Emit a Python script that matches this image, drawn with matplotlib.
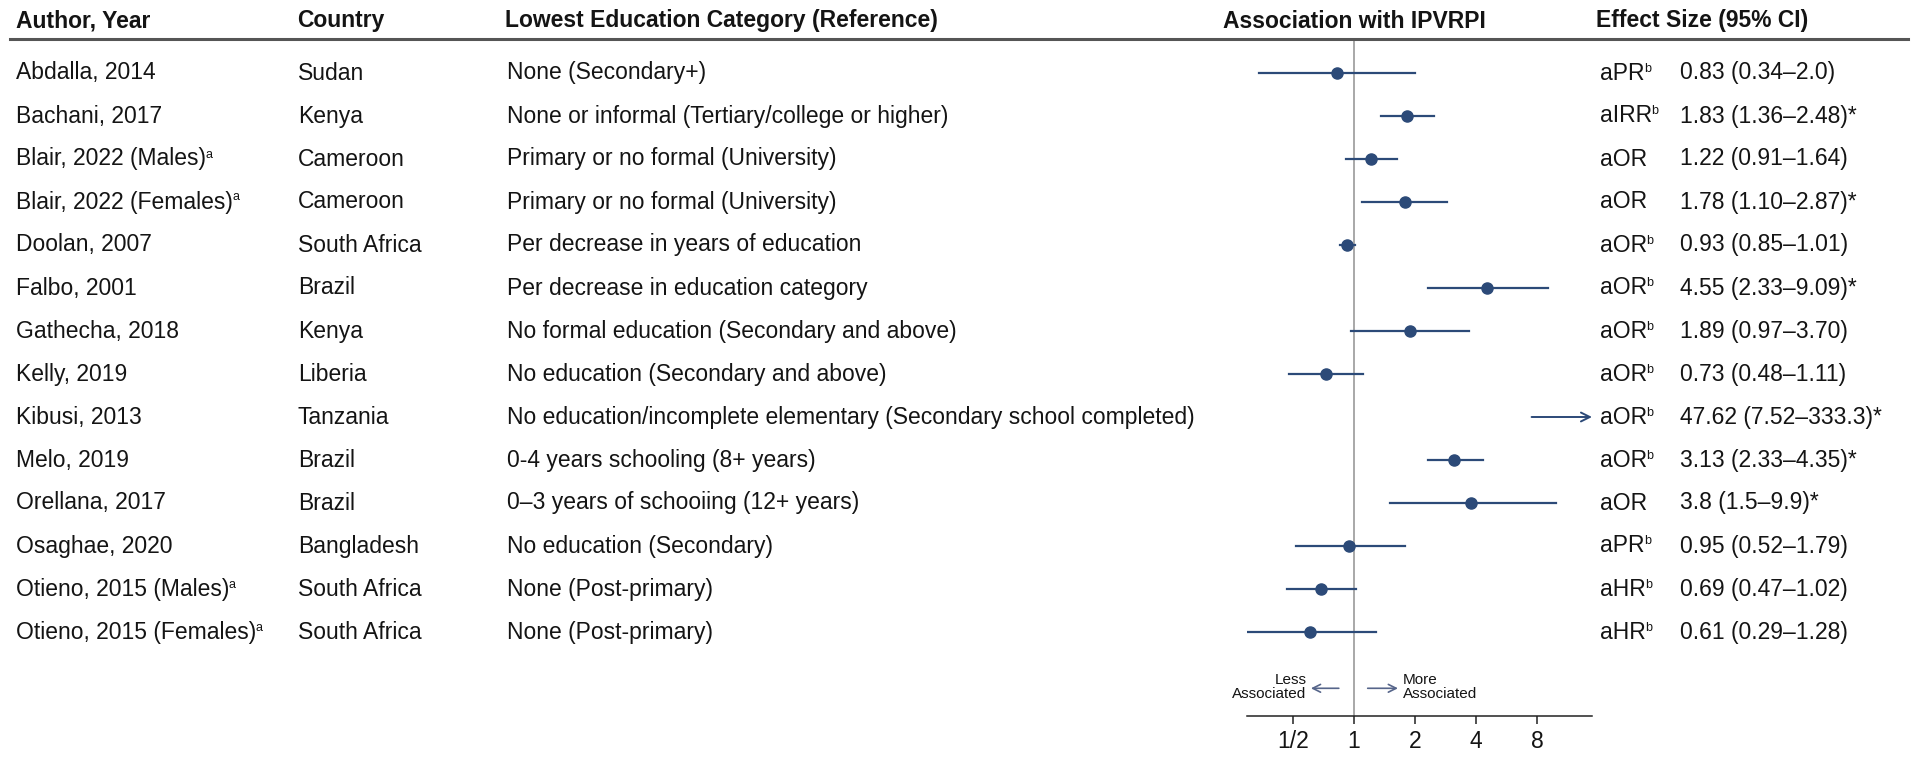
import matplotlib
matplotlib.use("Agg")
import matplotlib.pyplot as plt
from matplotlib import transforms
from matplotlib.lines import Line2D
from matplotlib.ticker import NullLocator

plt.rcParams['font.family'] = ['Liberation Sans', 'DejaVu Sans']

# data
authors = ["Abdalla, 2014", "Bachani, 2017", "Blair, 2022 (Males)",
           "Blair, 2022 (Females)", "Doolan, 2007", "Falbo, 2001",
           "Gathecha, 2018", "Kelly, 2019", "Kibusi, 2013", "Melo, 2019",
           "Orellana, 2017", "Osaghae, 2020", "Otieno, 2015 (Males)",
           "Otieno, 2015 (Females)"]
footnote_a = [0, 0, 1, 1, 0, 0, 0, 0, 0, 0, 0, 0, 1, 1]
countries = ["Sudan", "Kenya", "Cameroon", "Cameroon", "South Africa", "Brazil",
             "Kenya", "Liberia", "Tanzania", "Brazil", "Brazil", "Bangladesh",
             "South Africa", "South Africa"]
references = ["None (Secondary+)",
              "None or informal (Tertiary/college or higher)",
              "Primary or no formal (University)",
              "Primary or no formal (University)",
              "Per decrease in years of education",
              "Per decrease in education category",
              "No formal education (Secondary and above)",
              "No education (Secondary and above)",
              "No education/incomplete elementary (Secondary school completed)",
              "0-4 years schooling (8+ years)",
              "0\u20133 years of schooiing (12+ years)",
              "No education (Secondary)",
              "None (Post-primary)",
              "None (Post-primary)"]
measures = ["aPR", "aIRR", "aOR", "aOR", "aOR", "aOR", "aOR", "aOR", "aOR",
            "aOR", "aOR", "aPR", "aHR", "aHR"]
footnote_b = [1, 1, 0, 0, 1, 1, 1, 1, 1, 1, 0, 1, 1, 1]
estimates = [0.83, 1.83, 1.22, 1.78, 0.93, 4.55, 1.89, 0.73, 47.62, 3.13, 3.8, 0.95, 0.69, 0.61]
lows = [0.34, 1.36, 0.91, 1.10, 0.85, 2.33, 0.97, 0.48, 7.52, 2.33, 1.5, 0.52, 0.47, 0.29]
highs = [2.0, 2.48, 1.64, 2.87, 1.01, 9.09, 3.70, 1.11, 333.3, 4.35, 9.9, 1.79, 1.02, 1.28]
ci_labels = ["0.83 (0.34\u20132.0)", "1.83 (1.36\u20132.48)*", "1.22 (0.91\u20131.64)",
             "1.78 (1.10\u20132.87)*", "0.93 (0.85\u20131.01)", "4.55 (2.33\u20139.09)*",
             "1.89 (0.97\u20133.70)", "0.73 (0.48\u20131.11)", "47.62 (7.52\u2013333.3)*",
             "3.13 (2.33\u20134.35)*", "3.8 (1.5\u20139.9)*", "0.95 (0.52\u20131.79)",
             "0.69 (0.47\u20131.02)", "0.61 (0.29\u20131.28)"]
tick_vals = [0.5, 1, 2, 4, 8]
tick_labels = ["1/2", "1", "2", "4", "8"]

W, H = 1920, 760
FS = 16.5
SUP_FS = 9
navy = "#2c4a78"
txt = "#141414"

def px(x):
    return x / W

fig = plt.figure(figsize=(W / 100, H / 100), dpi=100)
renderer = fig.canvas.get_renderer()

top, bot = 40, 716
row0, step = 73, 43
xmin, xmax = 2 ** -1.75, 2 ** 3.9
ax = fig.add_axes([px(1247), 1 - bot / H, px(1592 - 1247), (bot - top) / H])
ax.set_xscale("log")
ax.set_xlim(xmin, xmax)
ax.set_ylim((bot - row0) / step, (top - row0) / step)
ax.xaxis.set_minor_locator(NullLocator())
for s in ["left", "right", "top"]:
    ax.spines[s].set_visible(False)
ax.spines["bottom"].set_color("#222222")
ax.spines["bottom"].set_linewidth(1.1)
ax.set_yticks([])
ax.set_xticks(tick_vals)
ax.set_xticklabels(tick_labels)
ax.tick_params(axis="x", length=6, width=1.1, pad=4, labelsize=FS, color="#222222", labelcolor=txt)
ax.patch.set_alpha(0)

ax.axvline(1, color="#9a9a9a", lw=1.2, zorder=1)

trans = transforms.blended_transform_factory(fig.transFigure, ax.transData)


def cell(x, y, s, sup=None):
    t = ax.text(px(x), y, s, transform=trans, ha="left", va="center", fontsize=FS, color=txt)
    if sup:
        bb = t.get_window_extent(renderer)
        off = transforms.offset_copy(trans, fig=fig, x=bb.x1 - 0.5, y=4.5, units="dots")
        ax.text(0, y, sup, transform=off, ha="left", va="center", fontsize=SUP_FS, color=txt)
    return t


for i in range(len(authors)):
    if highs[i] > xmax:
        ax.annotate("", xy=(xmax, i), xytext=(lows[i], i),
                    arrowprops=dict(arrowstyle="->", color=navy, lw=1.4,
                                    mutation_scale=16, shrinkA=0, shrinkB=0),
                    annotation_clip=False)
    else:
        ax.plot([lows[i], highs[i]], [i, i], color=navy, lw=1.6, zorder=2)
        ax.plot(estimates[i], i, "o", ms=8, color=navy, zorder=3)

    cell(16, i, authors[i], "a" if footnote_a[i] else None)
    cell(298, i, countries[i])
    cell(507, i, references[i])
    cell(1600, i, measures[i], "b" if footnote_b[i] else None)
    cell(1680, i, ci_labels[i])

# headers
hy = 1 - 21 / H
fig.text(px(16), hy, "Author, Year", ha="left", va="center", fontsize=FS, fontweight="bold", color=txt)
fig.text(px(297), hy, "Country", ha="left", va="center", fontsize=FS, fontweight="bold", color=txt)
fig.text(px(505), hy, "Lowest Education Category (Reference)", ha="left", va="center",
         fontsize=FS, fontweight="bold", color=txt)
fig.text(px(1354), hy, "Association with IPVRPI", ha="center", va="center", fontsize=FS,
         fontweight="bold", color=txt)
fig.text(px(1596), hy, "Effect Size (95% CI)", ha="left", va="center", fontsize=FS,
         fontweight="bold", color=txt)
fig.add_artist(Line2D([px(10), px(1908)], [1 - 39 / H] * 2, transform=fig.transFigure,
                      color="#555555", lw=2.2))

# direction hints
ya = (687 - row0) / step
ax.text(0.585, ya, "Less\nAssociated", ha="right", va="center", ma="right",
        fontsize=11, linespacing=0.95, color=txt)
ax.text(1.75, ya, "More\nAssociated", ha="left", va="center", ma="left",
        fontsize=11, linespacing=0.95, color=txt)
arrow_kw = dict(arrowstyle="->", color="#56658a", lw=1.2, mutation_scale=14, shrinkA=0, shrinkB=0)
ax.annotate("", xy=(0.614, ya + 0.03), xytext=(0.843, ya + 0.03), arrowprops=arrow_kw)
ax.annotate("", xy=(1.65, ya + 0.03), xytext=(1.17, ya + 0.03), arrowprops=arrow_kw)

fig.savefig("out.png", dpi=100)
